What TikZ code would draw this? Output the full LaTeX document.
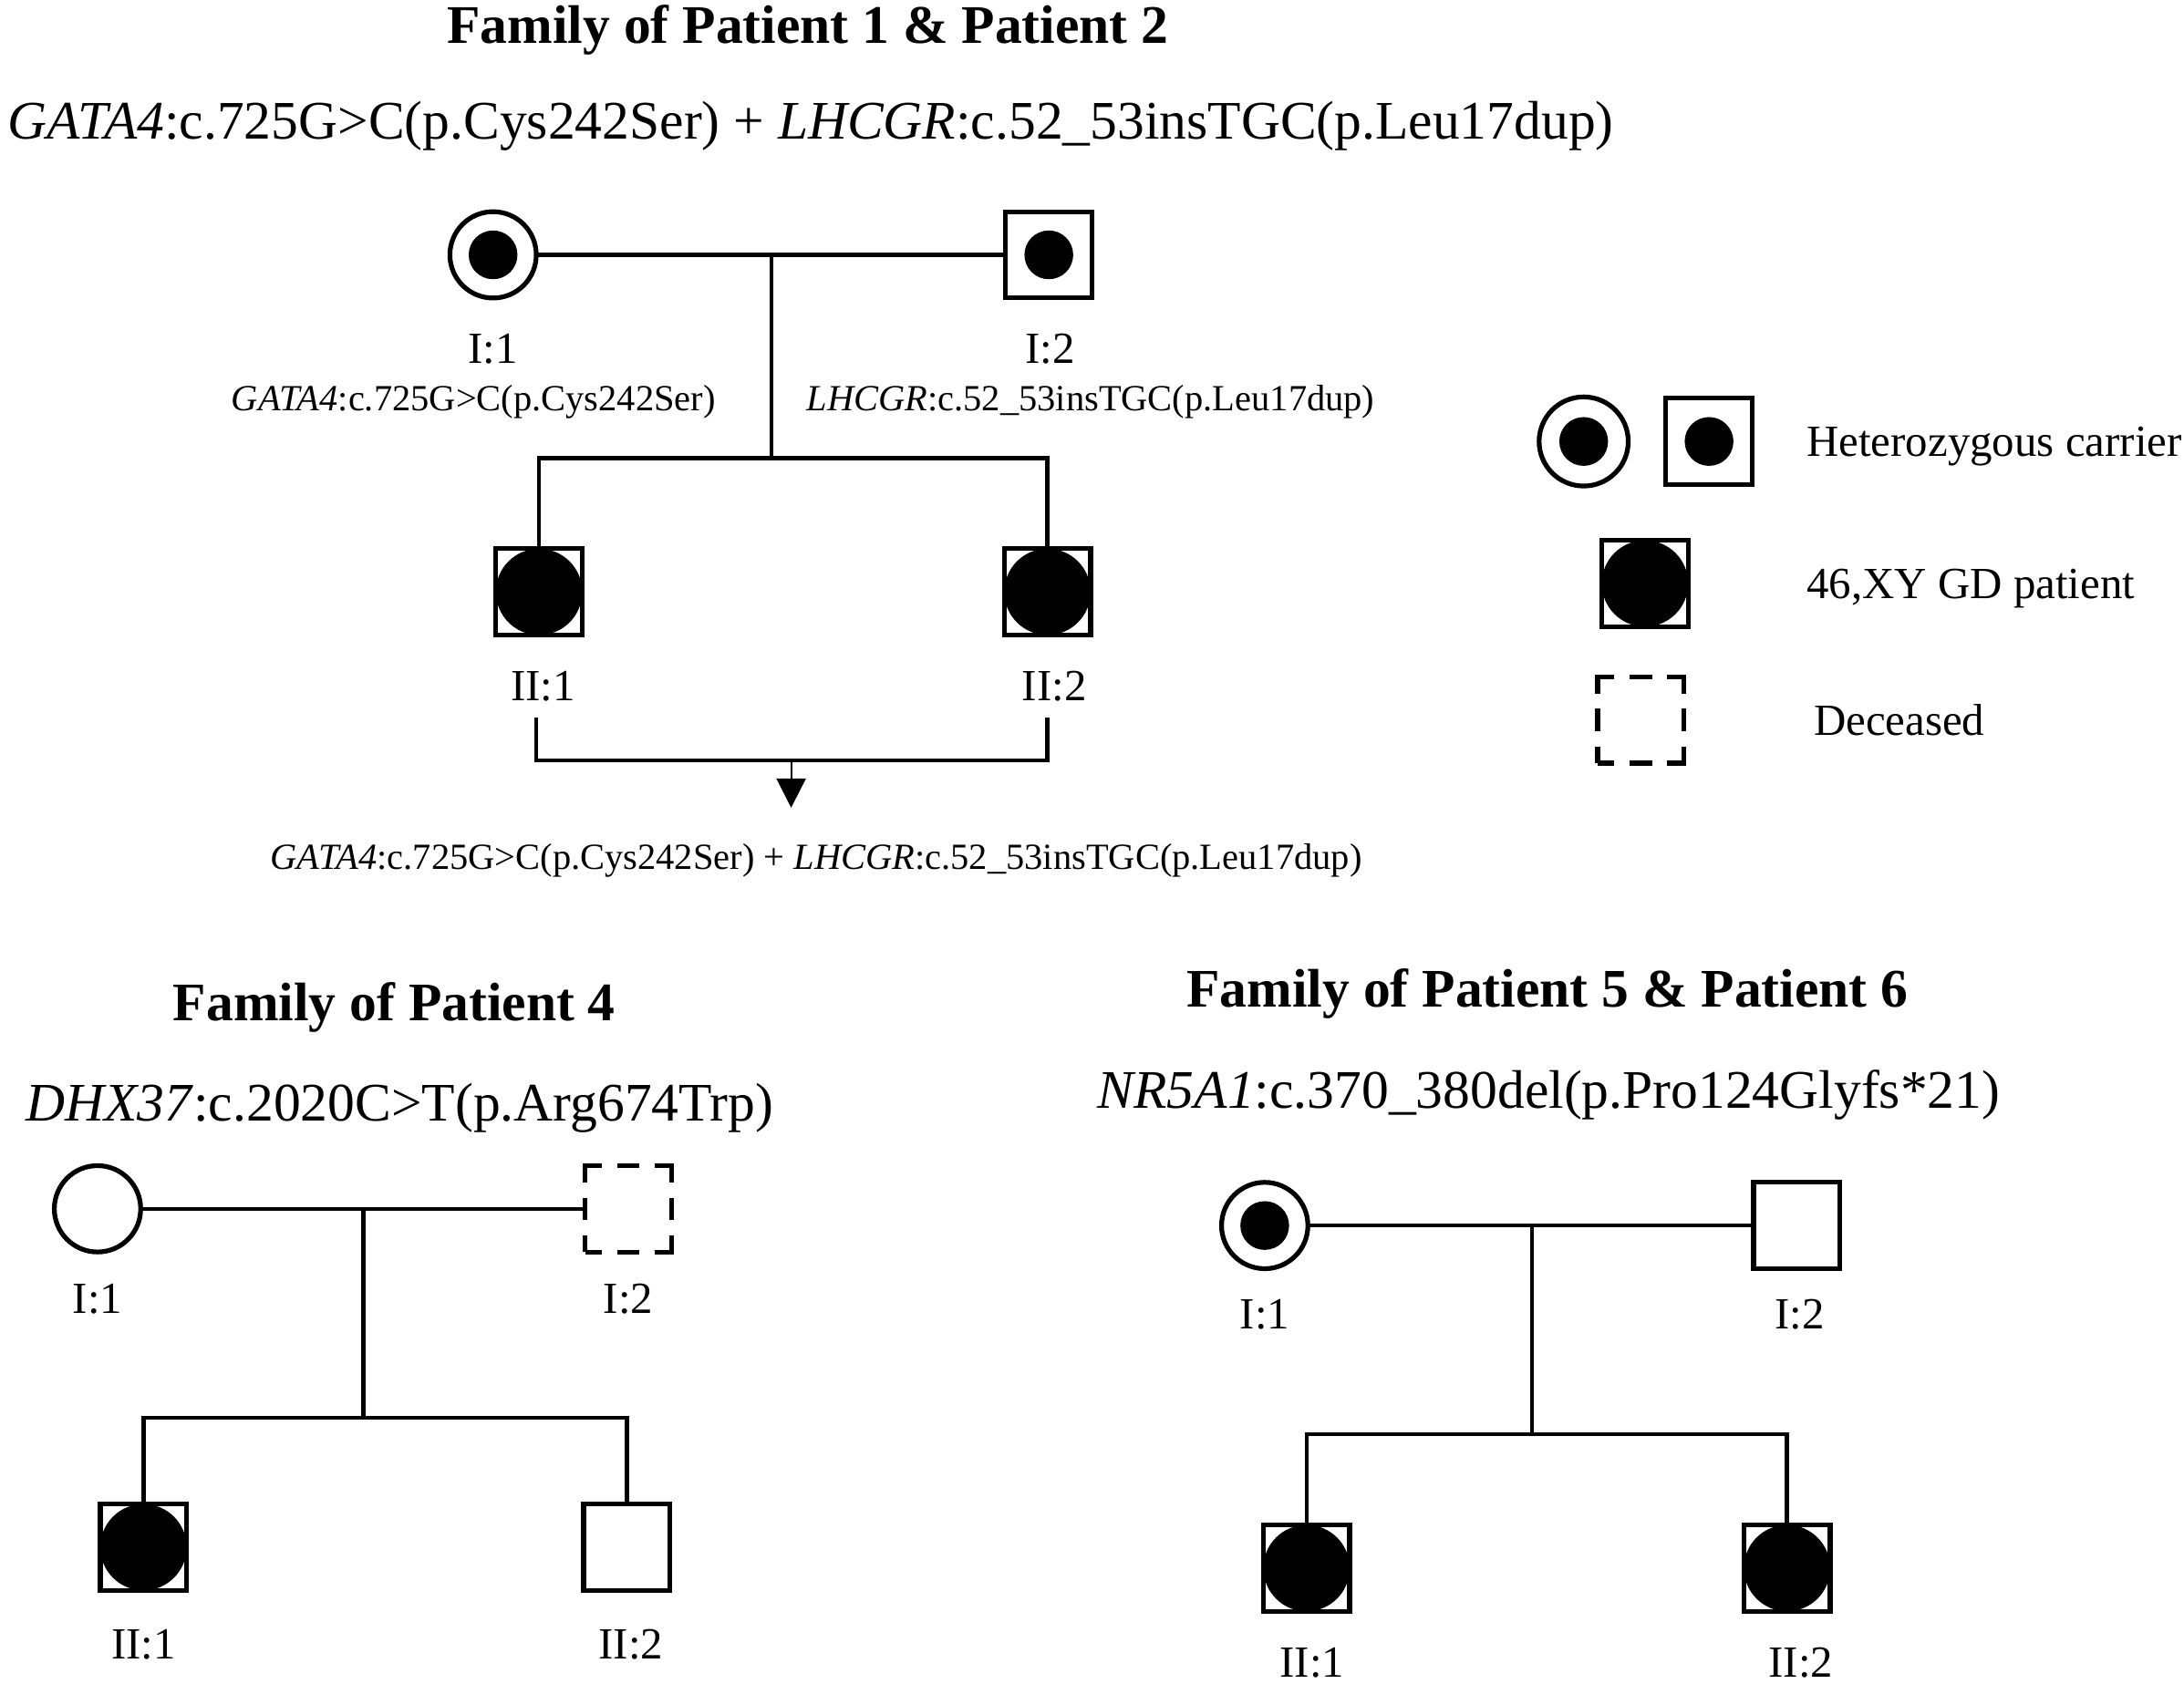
\documentclass[tikz,border=0pt]{standalone}
\usepackage{fontspec}
\setmainfont{Liberation Serif}
\usetikzlibrary{arrows.meta}
\begin{document}
\begin{tikzpicture}[x=1pt,y=-1pt,
 conn/.style={line width=2.9pt},
 sym/.style={draw, line width=3.4pt, inner sep=0pt, outer sep=0pt, minimum size=62pt},
 male/.style={sym, rectangle},
 female/.style={sym, circle},
 carrier/.style={path picture={\fill (path picture bounding box.center) circle[radius=17.5pt];}},
 affected/.style={path picture={\fill (path picture bounding box.center) circle[radius=31pt];}},
 deceased/.style={dash pattern=on 24pt off 11pt on 16pt off 11pt, dash phase=12pt},
 big/.style={font=\fontsize{39}{45}\selectfont, inner sep=0pt, anchor=base},
 bigb/.style={font=\fontsize{39}{45}\selectfont\bfseries, inner sep=0pt, anchor=base},
 lab/.style={font=\fontsize{32}{38}\selectfont, inner sep=0pt, anchor=base},
 small/.style={font=\fontsize{26.5}{32}\selectfont, inner sep=0pt, anchor=base},
]
\useasboundingbox[fill=white] (0,0) rectangle (1568,1209);

% ---------------- Family 1 ----------------
\node[bigb] (t1) at (580,31) {Family of Patient 1 \& Patient 2};
\node[big] (s1) at (582,100) {\textit{GATA4}:c.725G>C(p.Cys242Ser) + \textit{LHCGR}:c.52\_53insTGC(p.Leu17dup)};

\node[female, carrier] (f1a) at (354,183) {};
\node[male, carrier] (f1b) at (753,183) {};
\node[male, affected] (f1c) at (387,425) {};
\node[male, affected] (f1d) at (752,425) {};
\coordinate (f1m) at (554,183);
\coordinate (f1s) at (554,329);
\draw[conn] (f1a) -- (f1b);
\draw[conn] (f1m) -- (f1s);
\draw[conn] (f1c) -- (f1c |- f1s) -- (f1d |- f1s) -- (f1d);

\node[lab] (l1a) at (354,261) {I:1};
\node[lab] (l1b) at (754,261) {I:2};
\node[small] (m1a) at (340,295) {\textit{GATA4}:c.725G>C(p.Cys242Ser)};
\node[small] (m1b) at (783,295) {\textit{LHCGR}:c.52\_53insTGC(p.Leu17dup)};
\node[lab] (l1c) at (390,503) {II:1};
\node[lab] (l1d) at (757,503) {II:2};

\coordinate (br1) at (385,515);
\coordinate (br2) at (752,515);
\coordinate (brm) at (568,546);
\coordinate (arr) at (568,580);
\draw[conn] (br1) |- (brm) -| (br2);
\draw[line width=1.4pt, -{Triangle[width=21pt,length=21pt]}] (brm) -- (arr);
\node[small] (m1c) at (586,624) {\textit{GATA4}:c.725G>C(p.Cys242Ser) + \textit{LHCGR}:c.52\_53insTGC(p.Leu17dup)};

% ---------------- Legend ----------------
\node[female, carrier, minimum size=64pt] (lg1) at (1137,317) {};
\node[male, carrier] (lg2) at (1227,317) {};
\node[lab, anchor=base west] (lgt1) at (1297,328) {Heterozygous carrier};
\node[male, affected] (lg3) at (1181,419) {};
\node[lab, anchor=base west] (lgt2) at (1297,430) {46,XY GD patient};
\node[male, deceased] (lg4) at (1178,517) {};
\node[lab, anchor=base west] (lgt3) at (1302,528) {Deceased};

% ---------------- Family 4 ----------------
\node[bigb] (t4) at (283,733) {Family of Patient 4};
\node[big] (s4) at (287,805) {\textit{DHX37}:c.2020C>T(p.Arg674Trp)};
\node[female] (f4a) at (70,868) {};
\node[male, deceased] (f4b) at (451,868) {};
\node[male, affected] (f4c) at (103,1111) {};
\node[male] (f4d) at (450,1111) {};
\coordinate (f4m) at (261,868);
\coordinate (f4s) at (261,1018);
\draw[conn] (f4a) -- (f4b);
\draw[conn] (f4m) -- (f4s);
\draw[conn] (f4c) -- (f4c |- f4s) -- (f4d |- f4s) -- (f4d);
\node[lab] (l4a) at (70,943) {I:1};
\node[lab] (l4b) at (451,943) {I:2};
\node[lab] (l4c) at (103,1191) {II:1};
\node[lab] (l4d) at (453,1191) {II:2};

% ---------------- Family 5 ----------------
\node[bigb] (t5) at (1111,723) {Family of Patient 5 \& Patient 6};
\node[big] (s5) at (1112,796) {\textit{NR5A1}:c.370\_380del(p.Pro124Glyfs*21)};
\node[female, carrier] (f5a) at (908,880) {};
\node[male] (f5b) at (1290,880) {};
\node[male, affected] (f5c) at (938,1126) {};
\node[male, affected] (f5d) at (1283,1126) {};
\coordinate (f5m) at (1100,880);
\coordinate (f5s) at (1100,1030);
\draw[conn] (f5a) -- (f5b);
\draw[conn] (f5m) -- (f5s);
\draw[conn] (f5c) -- (f5c |- f5s) -- (f5d |- f5s) -- (f5d);
\node[lab] (l5a) at (908,954) {I:1};
\node[lab] (l5b) at (1292,954) {I:2};
\node[lab] (l5c) at (942,1204) {II:1};
\node[lab] (l5d) at (1293,1204) {II:2};
\end{tikzpicture}
\end{document}
